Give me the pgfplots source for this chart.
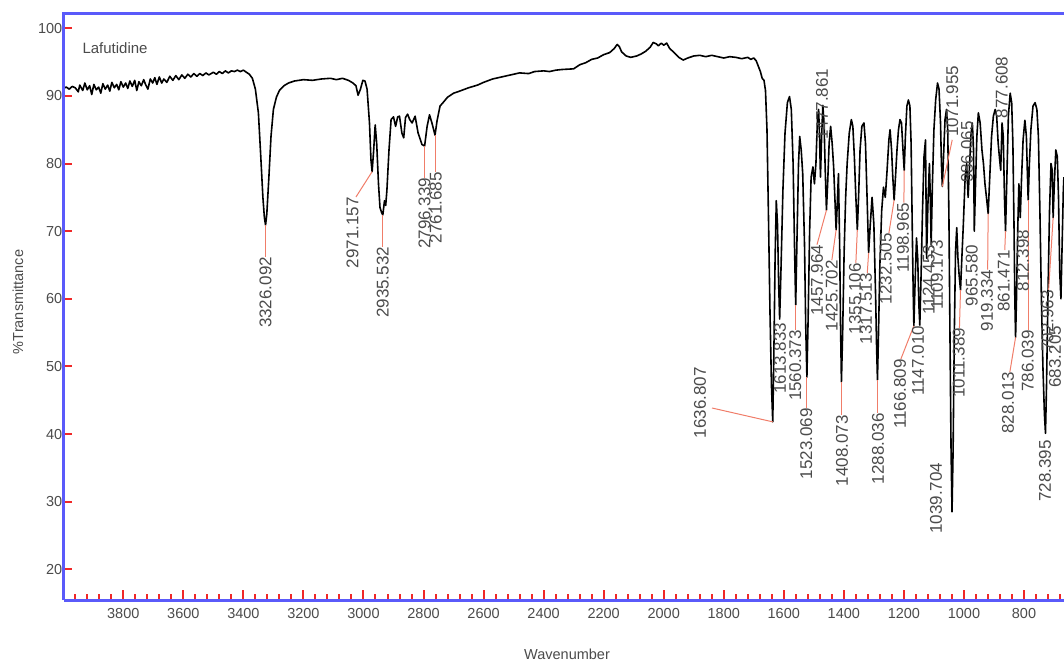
\documentclass[border=0pt]{standalone}
\usepackage{fontspec}
\setmainfont{Liberation Sans}
\usepackage{pgfplots}
\pgfplotsset{compat=1.18}
\definecolor{axisblue}{RGB}{90,90,250}
\definecolor{tickred}{RGB}{240,40,40}
\definecolor{leader}{RGB}{240,125,105}
\definecolor{labelgray}{RGB}{75,75,75}

% peak label below the trace: text top at (w,T)
\newcommand{\pkb}[3]{\node[rotate=90,anchor=east,inner sep=0pt,font=\fontsize{17}{17}\selectfont,text=labelgray] at (axis cs:#1,#2) {#3};}
% peak label above the trace: text bottom at (w,T)
\newcommand{\pka}[3]{\node[rotate=90,anchor=west,inner sep=0pt,font=\fontsize{17}{17}\selectfont,text=labelgray] at (axis cs:#1,#2) {#3};}
% leader line
\newcommand{\ld}[4]{\draw[leader,line width=1pt] (axis cs:#1,#2) -- (axis cs:#3,#4);}

\begin{document}
\begin{tikzpicture}
\useasboundingbox (-64pt,-61pt) rectangle (1000pt,600pt);
\begin{axis}[
  at={(0pt,0pt)}, anchor=south west,
  width=1000pt, height=586pt, scale only axis,
  x dir=reverse, xmin=666.8, xmax=3997.5, ymin=15.46, ymax=102.11,
  axis line style={draw=none},
  xtick={800,1000,...,3800},
  ytick={20,30,...,100},
  xtick pos=bottom, ytick pos=left,
  tick align=inside,
  major tick length=8pt,
  xtick style={draw=none},
  ytick style={tickred, line width=2pt},
  tick label style={font=\fontsize{14.5}{15}\selectfont, text=labelgray},
  /pgf/number format/assume math mode=true,
  /pgf/number format/1000 sep={},
  yticklabel style={inner sep=1.5pt},
  xticklabel style={inner sep=1pt, yshift=-7pt},
  clip=false,
]
\addplot[black, line width=1.6pt, line join=round] table {
4000 91.1
3990 91.3
3980 91.0
3970 91.4
3960 91.2
3950 90.6
3945 91.6
3935 90.8
3928 91.9
3920 90.9
3912 91.5
3905 90.2
3898 91.7
3890 90.9
3882 91.3
3875 90.4
3868 91.8
3860 91.0
3852 91.6
3845 90.7
3838 92.0
3830 91.2
3822 91.7
3815 90.9
3808 92.1
3800 91.3
3792 91.9
3785 91.1
3778 92.2
3770 91.4
3762 92.3
3755 90.8
3748 92.1
3740 91.5
3732 92.4
3725 91.6
3718 91.0
3710 92.5
3702 91.9
3695 92.7
3688 91.7
3680 92.8
3672 91.9
3665 92.5
3655 92.0
3645 92.9
3635 92.3
3625 93.0
3615 92.4
3605 93.1
3595 92.6
3585 93.2
3575 92.8
3565 93.3
3555 92.9
3545 93.3
3535 93.0
3525 93.4
3515 93.1
3500 93.5
3490 93.2
3480 93.6
3470 93.3
3460 93.7
3450 93.4
3440 93.7
3430 93.6
3420 93.8
3410 93.6
3400 93.8
3390 93.5
3380 93.2
3370 92.6
3360 91.0
3350 87.5
3342 81.0
3335 75.0
3330 72.0
3326.092 70.9
3322 72.5
3315 78.0
3308 84.0
3300 88.0
3290 89.8
3280 90.8
3265 91.5
3250 91.9
3230 92.2
3200 92.4
3170 92.3
3140 92.5
3110 92.6
3090 92.4
3070 92.6
3050 92.3
3035 91.9
3025 91.5
3018 90.1
3010 91.0
3002 92.3
2995 92.2
2988 91.0
2980 86.0
2975 80.5
2971.157 78.8
2966 82.0
2961 85.7
2956 83.0
2950 77.0
2945 73.5
2940 72.8
2935.532 72.4
2930 74.5
2926 73.8
2922 76.0
2915 82.0
2908 86.5
2900 86.9
2893 85.5
2886 86.9
2880 87.0
2872 84.5
2866 83.8
2860 86.8
2853 87.3
2846 86.5
2838 86.0
2828 87.0
2818 84.5
2805 82.8
2796.339 82.6
2788 85.5
2780 87.2
2772 86.0
2761.685 84.2
2755 86.3
2745 88.5
2735 89.0
2720 89.8
2700 90.4
2680 90.7
2650 91.2
2620 91.6
2600 92.0
2570 92.5
2540 92.8
2510 93.1
2480 93.4
2450 93.3
2430 93.6
2400 93.7
2380 93.6
2360 93.8
2340 93.9
2300 94.0
2280 94.6
2260 94.9
2240 95.4
2220 95.6
2200 96.1
2180 96.4
2165 97.0
2155 97.6
2148 97.3
2140 96.5
2125 95.9
2110 95.7
2090 95.9
2075 96.2
2060 96.6
2045 97.2
2035 97.9
2025 97.7
2018 97.4
2008 97.8
2000 97.5
1990 97.8
1980 97.0
1965 96.4
1950 95.7
1935 95.3
1920 95.6
1900 95.9
1880 96.0
1860 95.8
1840 96.0
1820 95.8
1800 95.6
1780 95.8
1760 95.7
1740 95.5
1720 95.7
1710 95.4
1700 95.6
1692 95.2
1685 94.4
1678 93.6
1672 92.6
1666 92.3
1661 90.8
1656 85.0
1651 72.0
1646 58.0
1641 47.0
1636.807 41.8
1633 52.0
1629 66.0
1625 74.5
1621 71.0
1617 62.0
1613.833 57.0
1609 65.0
1603 76.0
1596 84.5
1588 89.0
1581 89.9
1575 88.0
1569 80.0
1564 67.0
1560.373 59.1
1556 69.0
1551 80.0
1547 84.0
1542 82.0
1537 78.5
1531 68.0
1527 56.0
1523.069 48.4
1519 57.0
1514 70.0
1509 78.0
1503 79.5
1498 77.0
1493 80.0
1488 86.5
1484 88.0
1481 84.0
1477.861 78.0
1474 84.0
1470 88.6
1466 86.0
1462 79.0
1457.964 73.1
1454 77.0
1449 83.0
1444 85.5
1439 83.0
1434 79.5
1430 75.0
1425.702 70.2
1422 74.0
1418 78.5
1414 68.0
1411 56.0
1408.073 47.7
1404 55.0
1399 67.0
1394 75.0
1389 80.0
1382 84.5
1375 86.5
1370 85.5
1365 81.0
1360 75.0
1355.106 70.2
1351 75.0
1346 82.0
1340 85.5
1333 86.0
1328 83.0
1322 74.0
1317.513 66.8
1312 71.0
1306 75.0
1300 71.0
1294 60.0
1291 53.0
1288.036 48.0
1285 54.0
1280 65.0
1274 73.0
1268 76.5
1262 75.0
1256 79.0
1250 83.5
1246 85.0
1241 82.0
1237 78.0
1232.505 74.6
1228 78.0
1223 82.0
1218 85.0
1213 86.5
1208 86.0
1203 82.0
1198.965 79.0
1195 84.0
1190 88.5
1185 89.4
1180 88.5
1176 83.0
1172 70.0
1169 61.0
1166.809 56.0
1163 62.0
1158 69.0
1154 66.0
1150 59.0
1147.010 56.1
1143 63.0
1138 73.0
1133 81.0
1128 83.5
1124.453 66.0
1120 74.0
1115 80.0
1112 75.0
1109.173 68.0
1105 77.0
1100 85.0
1094 89.5
1088 91.9
1083 91.0
1078 86.0
1075 80.0
1071.955 76.6
1068 81.0
1063 86.5
1058 88.0
1054 85.0
1050 72.0
1046 52.0
1043 38.0
1039.704 28.5
1036 38.0
1032 55.0
1028 67.0
1024 70.5
1020 66.0
1016 63.5
1011.389 61.3
1007 66.0
1002 71.0
996 78.0
991 80.0
986.065 75.0
982 79.0
977 84.0
972 86.0
968 82.0
965.5 70.0
962 76.0
957 84.0
952 87.5
946 86.0
940 82.0
935 80.0
930 77.0
925 75.0
919.334 72.6
914 78.0
908 84.0
902 87.0
896 88.0
891 87.0
886 83.0
882 81.0
877.608 79.0
873 86.0
869 84.0
865 75.0
861.471 70.0
857 78.0
852 87.0
846 90.4
841 89.0
837 83.0
833 70.0
830.5 60.0
828.013 54.3
825 60.0
821 70.0
817 77.0
812.4 72.0
808 78.0
803 83.5
797 86.4
792 84.0
789 79.0
786.039 74.6
782 80.0
777 85.0
770 88.5
763 89.0
757 88.0
752 84.0
747 73.0
742 60.0
737 50.0
732 43.0
728.395 40.1
725 47.0
720 61.0
715 73.0
710 80.0
706 79.0
702.9 72.0
699 77.0
694 82.0
689 81.0
685 75.0
681 64.0
677 60.0
673 68.0
669 76.0
667 78.0
};

% leader lines
\ld{3326.092}{70.9}{3326.092}{66.2}
\ld{2971.157}{78.8}{3025}{75.05}
\ld{2935.532}{72.4}{2935.532}{67.7}
\ld{2796.339}{82.6}{2796.339}{77.9}
\ld{2761.685}{84.2}{2761.685}{78.75}
\ld{1636.807}{41.8}{1839}{43.85}
\ld{1560.373}{59.1}{1560.373}{55.4}
\ld{1523.069}{48.4}{1523.069}{43.85}
\ld{1457.964}{73.1}{1489.5}{68.0}
\ld{1425.702}{70.2}{1440}{65.7}
\ld{1408.073}{47.7}{1408.073}{42.8}
\ld{1355.106}{70.2}{1360}{65.3}
\ld{1317.513}{66.8}{1322}{63.8}
\ld{1288.036}{48.0}{1288.036}{43.1}
\ld{1232.505}{74.6}{1250}{69.7}
\ld{1198.965}{79.0}{1200}{74.2}
\ld{1166.809}{56.0}{1210}{51.1}
\ld{1071.955}{76.6}{1039}{83.5}
\ld{1011.389}{61.3}{1015}{55.7}
\ld{919.334}{72.6}{921}{64.3}
\ld{861.471}{70.0}{864}{67.2}
\ld{828.013}{54.3}{847}{49.2}
\ld{786.039}{74.6}{786.039}{55.4}
\ld{702.9}{72.0}{718}{61.3}

% peak labels
\pkb{3326.092}{66.2}{3326.092}
\pkb{3036.6}{75.05}{2971.157}
\pkb{2935.532}{67.7}{2935.532}
\pkb{2796.339}{77.9}{2796.339}
\pkb{2759}{78.75}{2761.685}
\pkb{1879}{49.9}{1636.807}
\pkb{1613}{56.5}{1613.833}
\pkb{1562}{55.4}{1560.373}
\pkb{1525}{43.85}{1523.069}
\pka{1473}{83.5}{1477.861}
\pkb{1489.5}{68.0}{1457.964}
\pkb{1440}{65.7}{1425.702}
\pkb{1406}{42.8}{1408.073}
\pkb{1363}{65.3}{1355.106}
\pkb{1326}{63.8}{1317.513}
\pkb{1286}{43.1}{1288.036}
\pkb{1260}{69.7}{1232.505}
\pkb{1203}{74.2}{1198.965}
\pkb{1213}{51.1}{1166.809}
\pkb{1153}{56.0}{1147.010}
\pkb{1117}{68.0}{1124.453}
\pkb{1090}{68.7}{1109.173}
\pka{1039}{83.9}{1071.955}
\pkb{1093}{35.8}{1039.704}
\pkb{1017}{55.7}{1011.389}
\pka{990}{77.1}{986.065}
\pkb{974}{68.0}{965.580}
\pkb{923}{64.3}{919.334}
\pka{874}{86.7}{877.608}
\pkb{867}{67.2}{861.471}
\pkb{853}{49.2}{828.013}
\pkb{803}{70.2}{812.398}
\pkb{787}{55.4}{786.039}
\pkb{730}{39.1}{728.395}
\pkb{722}{61.3}{702.963}
\pkb{697}{56.0}{683.205}

% axis frame: left, top and bottom only
\draw[axisblue, line width=3pt] (rel axis cs:0,0) -- (rel axis cs:1,0);
\draw[axisblue, line width=3pt] (rel axis cs:0,0) -- (rel axis cs:0,1) -- (rel axis cs:1,1);
\end{axis}
% wavenumber tick marks along the bottom edge (axis runs 3997.5 at x=0 to 666.8 at x=1000pt)
\foreach \w in {680,720,...,3960} {
  \pgfmathsetmacro{\xx}{(3997.5-\w)/3330.7*1000}
  \draw[tickred, line width=2pt] (\xx pt,1pt) -- (\xx pt,6pt);
}
\foreach \w in {800,1000,...,3800} {
  \pgfmathsetmacro{\xx}{(3997.5-\w)/3330.7*1000}
  \draw[tickred, line width=2pt] (\xx pt,1pt) -- (\xx pt,10pt);
}
\node[anchor=west, font=\fontsize{15}{15}\selectfont, text=labelgray] at (15pt,552pt) {Lafutidine};
\node[font=\fontsize{14.5}{15}\selectfont, text=labelgray] at (503pt,-54pt) {Wavenumber};
\node[rotate=90, font=\fontsize{14.5}{15}\selectfont, text=labelgray] at (-46pt,298pt) {\%Transmittance};
\end{tikzpicture}
\end{document}
